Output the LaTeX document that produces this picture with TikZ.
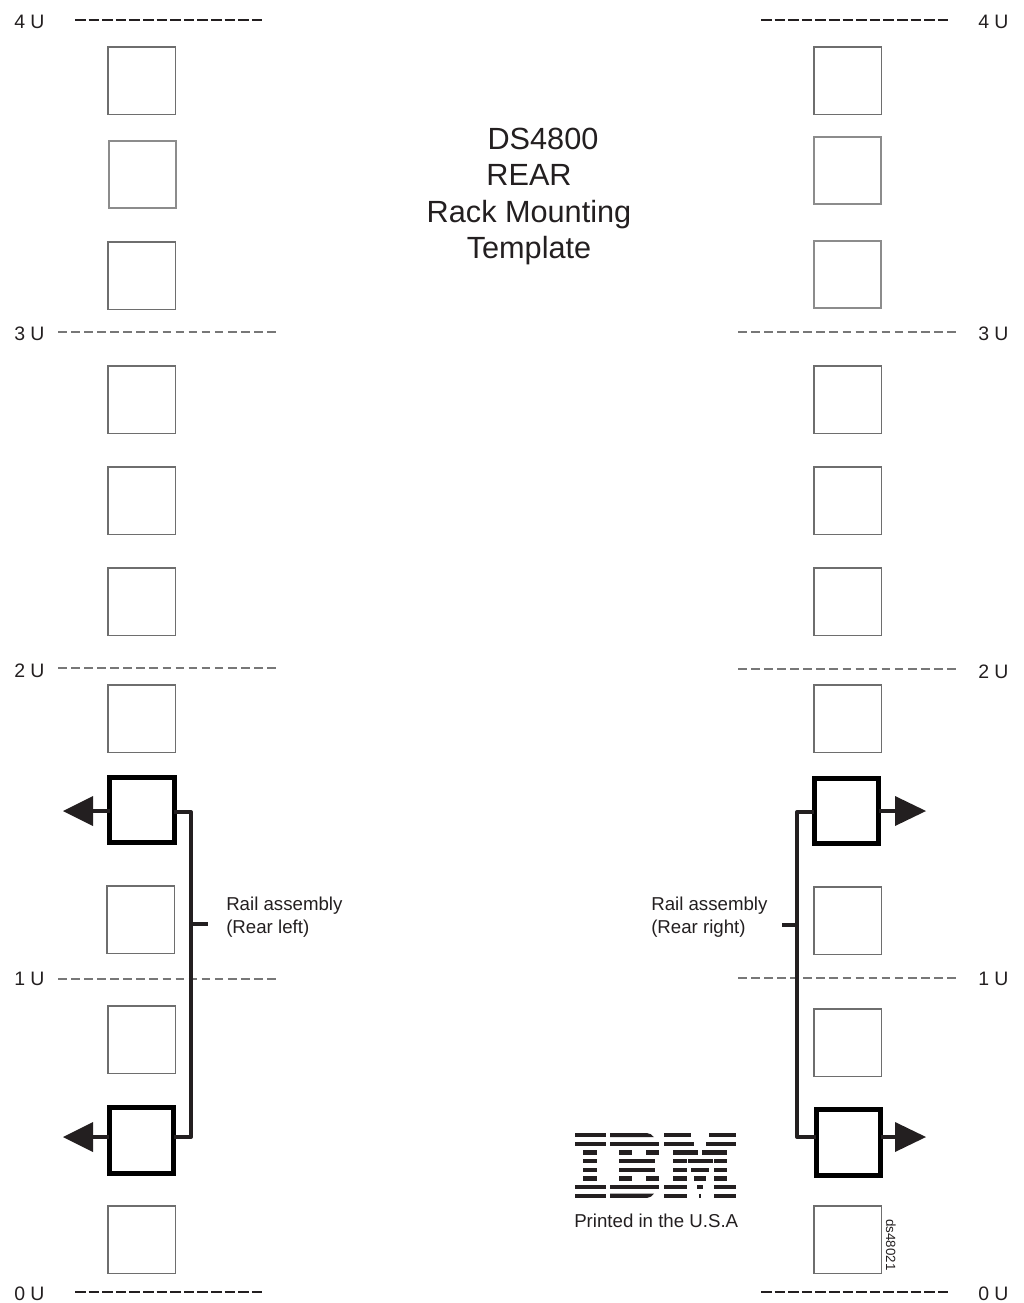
\documentclass[tikz,border=0pt]{standalone}
\usepackage{fontspec}
\setmainfont{Liberation Sans}
\definecolor{ink}{HTML}{231F20}
\definecolor{thinbox}{HTML}{6E6E6E}
\definecolor{softbox}{HTML}{8C8C8C}
\definecolor{ruleg}{HTML}{777777}
\tikzset{
  holebox/.style={draw=thinbox,line width=1.1pt,rectangle,inner sep=0pt,outer sep=0pt,minimum width=50.6pt,minimum height=50.6pt},
  softhole/.style={holebox,draw=softbox,line width=1.3pt},
  railbox/.style={draw=black,line width=3.9pt,rectangle,inner sep=0pt,outer sep=0pt,minimum width=48.5pt,minimum height=49pt},
  railline/.style={draw=ink,line width=3pt,line join=round},
  arrowhd/.style={fill=ink},
  blackrule/.style={draw=ink,line width=1.3pt,dash pattern=on 8pt off 2.2pt},
  grayrule/.style={draw=ruleg,line width=0.8pt,dash pattern=on 6.5pt off 3.3pt},
  ulabel/.style={font=\fontsize{14.6pt}{16pt}\selectfont,text=ink,inner sep=0pt,anchor=base west},
  smalltxt/.style={font=\fontsize{14pt}{16pt}\selectfont,text=ink,inner sep=0pt,anchor=base west},
  titletxt/.style={font=\fontsize{23pt}{26pt}\selectfont,text=ink,inner sep=0pt,anchor=base},
  x=0.75pt,y=-0.75pt
}
\begin{document}
\begin{tikzpicture}
\useasboundingbox (0,0) rectangle (1024,1303);
% left holes
\node[holebox] (l1) at (141.5,80.5) {};
\node[softhole] (l2) at (142.5,174.5) {};
\node[holebox] (l3) at (141.5,275.5) {};
\node[holebox] (l4) at (141.5,399.5) {};
\node[holebox] (l5) at (141.5,500.5) {};
\node[holebox] (l6) at (141.5,601.5) {};
\node[holebox] (l7) at (141.5,718.5) {};
\node[railbox] (lr1) at (142,810) {};
\node[holebox] (l8) at (140.5,919.5) {};
\node[holebox] (l9) at (141.5,1039.5) {};
\node[railbox] (lr2) at (141.5,1140.5) {};
\node[holebox] (l10) at (141.5,1239.5) {};
% right holes
\node[holebox] (r1) at (847.5,80.5) {};
\node[softhole] (r2) at (847.5,170.5) {};
\node[softhole] (r3) at (847.5,274.5) {};
\node[holebox] (r4) at (847.5,399.5) {};
\node[holebox] (r5) at (847.5,500.5) {};
\node[holebox] (r6) at (847.5,601.5) {};
\node[holebox] (r7) at (847.5,718.5) {};
\node[railbox] (rr1) at (846.5,811) {};
\node[holebox] (r8) at (847.5,920.5) {};
\node[holebox] (r9) at (847.5,1042.5) {};
\node[railbox] (rr2) at (848.5,1142.5) {};
\node[holebox] (r10) at (847.5,1239.5) {};
% rules
\draw[blackrule] (75,20) -- (263,20);
\draw[blackrule] (761,20) -- (948,20);
\draw[blackrule] (75,1292) -- (263,1292);
\draw[blackrule] (761,1292) -- (948,1292);
\draw[grayrule] (58,332) -- (277,332);
\draw[grayrule] (58,668) -- (277,668);
\draw[grayrule] (58,979) -- (277,979);
\draw[grayrule] (738,332) -- (958,332);
\draw[grayrule] (738,669) -- (958,669);
\draw[grayrule] (738,978) -- (958,978);
% U labels
\node[ulabel] (u4l) at (14,28) {4 U};
\node[ulabel] (u3l) at (14,340) {3 U};
\node[ulabel] (u2l) at (14,677) {2 U};
\node[ulabel] (u1l) at (14,985) {1 U};
\node[ulabel] (u0l) at (14,1300) {0 U};
\node[ulabel] (u4r) at (978,28) {4 U};
\node[ulabel] (u3r) at (978,340) {3 U};
\node[ulabel] (u2r) at (978,678) {2 U};
\node[ulabel] (u1r) at (978,985) {1 U};
\node[ulabel] (u0r) at (978,1300) {0 U};
% rail left
\coordinate (lbt) at (191,812);
\coordinate (lbb) at (191,1137);
\coordinate (ltick) at (208,924);
\coordinate (lbm) at (191,924);
\draw[railline] (lr1.east |- lbt) -- (lbt) -- (lbb) -- (lr2.east |- lbb);
\draw[railline] (lbm) -- (ltick);
\coordinate (la1) at (92,811);
\coordinate (la2) at (92,1137);
\draw[railline] (lr1.west |- la1) -- (la1);
\draw[railline] (lr2.west |- la2) -- (la2);
\fill[arrowhd] (63,811) -- (93,796) -- (93,826) -- cycle;
\fill[arrowhd] (63,1137) -- (93,1122) -- (93,1152) -- cycle;
% rail right
\coordinate (rbt) at (797,812);
\coordinate (rbb) at (797,1137);
\coordinate (rtick) at (782,925);
\coordinate (rbm) at (797,925);
\draw[railline] (rr1.west |- rbt) -- (rbt) -- (rbb) -- (rr2.west |- rbb);
\draw[railline] (rbm) -- (rtick);
\coordinate (ra1) at (896,811);
\coordinate (ra2) at (896,1137);
\draw[railline] (rr1.east |- ra1) -- (ra1);
\draw[railline] (rr2.east |- ra2) -- (ra2);
\fill[arrowhd] (926,811) -- (895,796) -- (895,826) -- cycle;
\fill[arrowhd] (926,1137) -- (895,1122) -- (895,1152) -- cycle;
% texts
\node[smalltxt] (t1) at (226,910) {Rail assembly};
\node[smalltxt] (t2) at (226,933) {(Rear left)};
\node[smalltxt] (t3) at (651,910) {Rail assembly};
\node[smalltxt] (t4) at (651,933) {(Rear right)};
\node[titletxt] (d1) at (543,149) {DS4800};
\node[titletxt] (d2) at (529,185) {REAR};
\node[titletxt] (d3) at (529,222) {Rack Mounting};
\node[titletxt] (d4) at (529,258) {Template};
\node[smalltxt] (pr) at (574,1227) {Printed in the U.S.A};
\node[font=\fontsize{10pt}{12pt}\selectfont,text=ink,inner sep=0pt,rotate=-90,anchor=center] (ds) at (891,1245) {ds48021};
% IBM logo
\def\rowy#1{(1133+8.67*(#1-1))}
\foreach \r/\a/\b in {
 1/574.7/605.7,2/574.7/605.7,3/583.3/596.7,4/583.3/596.7,5/583.3/596.7,6/583.3/596.7,7/574.7/605.7,8/574.7/605.7,
 2/610/659,3/619/632.3,3/646/659,4/619/655,5/619/655,6/619/632.3,6/646/659,7/610/659,
 1/664/690.7,1/709.3/735.7,2/664/694,2/706/735.7,
 3/672.7/698,3/701.7/726.7,4/672.7/686.5,4/687.5/713,4/713.5/726.7,5/672.7/686.5,5/690.7/709.3,5/713.5/726.7,6/672.7/686.5,6/694/706,6/713.5/726.7,
 7/664/686.5,7/697/703,7/713.5/735.7,8/664/686.5,8/699/701,8/713.5/735.7}
 \fill[ink] (\a,{1133+8.67*(\r-1)}) rectangle (\b,{1137.2+8.67*(\r-1)});
\fill[ink] (610,1133) -- (647,1133) .. controls (650,1133) and (652,1135) .. (654,1137.2) -- (610,1137.2) -- cycle;
\fill[ink] (610,1193.7) -- (654,1193.7) .. controls (652,1196) and (650,1197.9) .. (647,1197.9) -- (610,1197.9) -- cycle;
\end{tikzpicture}
\end{document}
